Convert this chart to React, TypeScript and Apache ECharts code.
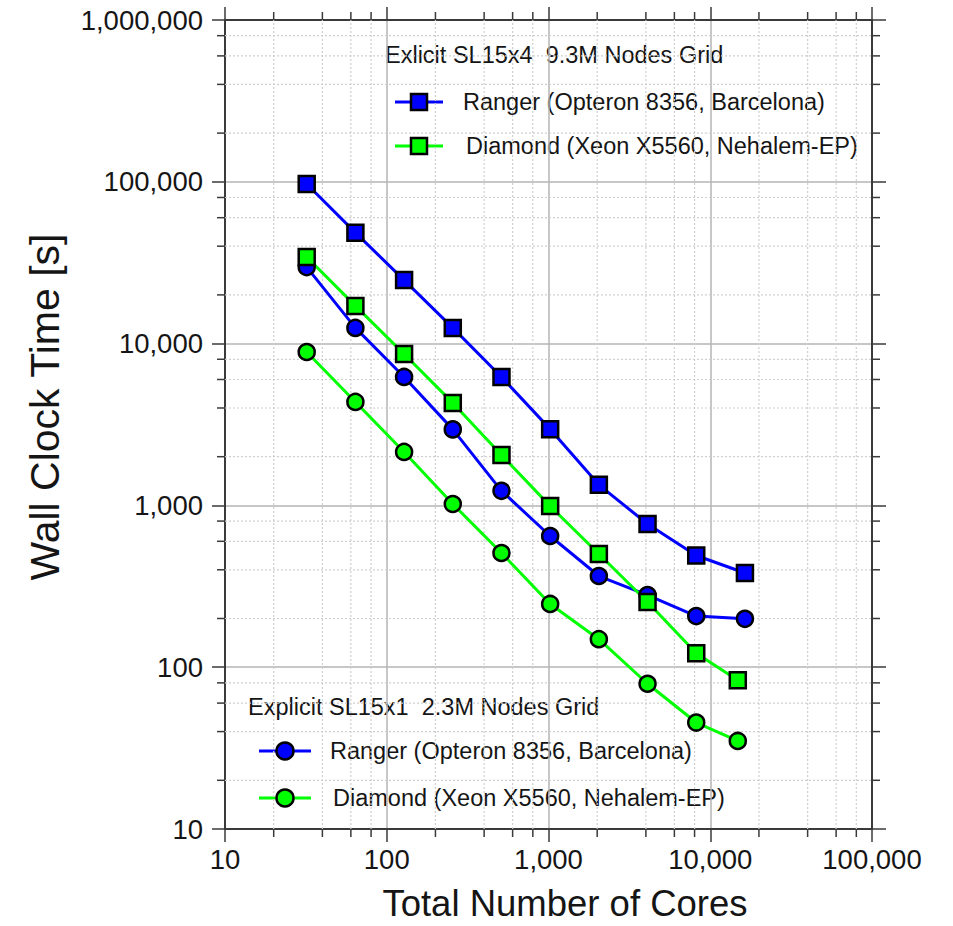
import React, { useEffect, useRef } from "react";
import * as echarts from "echarts";

// ---- data ----
const cores = [32, 64, 128, 256, 512, 1024, 2048, 4096, 8192, 16384];
const diamondCores = [32, 64, 128, 256, 512, 1024, 2048, 4096, 8192, 14800];

const rangerSL15x4 = [97000, 48500, 24700, 12500, 6220, 2960, 1340, 767, 490, 382];
const diamondSL15x4 = [34300, 17100, 8630, 4300, 2050, 990, 501, 253, 122, 83];
const rangerSL15x1 = [29700, 12500, 6220, 2950, 1230, 647, 366, 279, 207, 199];
const diamondSL15x1 = [8870, 4360, 2140, 1020, 508, 246, 149, 79, 45.5, 35];

const xMinor = [20, 40, 60, 80, 200, 400, 600, 800, 2000, 4000, 6000, 8000, 20000, 40000, 60000, 80000];
const yMinor = [
  20, 40, 60, 80, 200, 400, 600, 800, 2000, 4000, 6000, 8000,
  20000, 40000, 60000, 80000, 200000, 400000, 600000, 800000,
];

const legendTop = {
  title: "Exlicit SL15x4  9.3M Nodes Grid",
  ranger: "Ranger (Opteron 8356, Barcelona)",
  diamond: "Diamond (Xeon X5560, Nehalem-EP)",
};
const legendBottom = {
  title: "Explicit SL15x1  2.3M Nodes Grid",
  ranger: "Ranger (Opteron 8356, Barcelona)",
  diamond: "Diamond (Xeon X5560, Nehalem-EP)",
};

const BLUE = "#0000ff";
const GREEN = "#00ff00";
const FONT = "Liberation Sans, Arial, Helvetica, sans-serif";
const TEXT = "#151515";

const X_MIN = 10, X_MAX = 100000, Y_MIN = 10, Y_MAX = 1000000;

const fmt = (v: number) => Math.round(v).toLocaleString("en-US");

function legendGraphics(
  cfg: { title: string; ranger: string; diamond: string },
  titleX: number, titleY: number,
  lineX1: number, lineX2: number, y1: number, y2: number,
  textX1: number, textX2: number, symbol: "rect" | "circle"
) {
  const mid = (lineX1 + lineX2) / 2;
  const marker = (y: number, color: string) =>
    symbol === "rect"
      ? { type: "rect", shape: { x: mid - 8, y: y - 8, width: 16, height: 16 }, style: { fill: color, stroke: "#000", lineWidth: 2.5 } }
      : { type: "circle", shape: { cx: mid, cy: y, r: 8.5 }, style: { fill: color, stroke: "#000", lineWidth: 2.5 } };
  const txt = (x: number, y: number, s: string) => ({
    type: "text", x, y,
    style: { text: s, fontSize: 23.5, fontFamily: FONT, fill: TEXT, verticalAlign: "middle", textVerticalAlign: "middle" },
  });
  return [
    txt(titleX, titleY, cfg.title),
    { type: "line", shape: { x1: lineX1, y1, x2: lineX2, y2: y1 }, style: { stroke: BLUE, lineWidth: 3 } },
    marker(y1, BLUE),
    txt(textX1, y1, cfg.ranger),
    { type: "line", shape: { x1: lineX1, y1: y2, x2: lineX2, y2 }, style: { stroke: GREEN, lineWidth: 3 } },
    marker(y2, GREEN),
    txt(textX2, y2, cfg.diamond),
  ];
}

export default function App() {
  const ref = useRef<HTMLDivElement>(null);
  useEffect(() => {
    if (!ref.current) return;
    const chart = echarts.init(ref.current, null, { renderer: "svg" });

    const axisLine = { show: true, lineStyle: { color: "#3a3a3a", width: 2 } };
    const majorGrid = { show: true, lineStyle: { color: "#b4b4b4", width: 1.5, type: "solid" } };
    const labelStyle = { fontSize: 27.5, fontFamily: FONT, color: TEXT };

    const mkLine = (name: string, xs: number[], ys: number[], color: string, symbol: string) => ({
      type: "line",
      name,
      data: xs.map((x, i) => [x, ys[i]]),
      symbol,
      symbolSize: 16,
      showSymbol: true,
      lineStyle: { color, width: 3 },
      itemStyle: { color, borderColor: "#000", borderWidth: 2.5 },
      z: 5,
      silent: true,
    });

    const option: any = {
      animation: false,
      backgroundColor: "#ffffff",
      grid: { left: 225, top: 20, width: 647, height: 809, containLabel: false, outerBoundsMode: "none" },
      xAxis: [
        {
          type: "log", logBase: 10, min: X_MIN, max: X_MAX, position: "bottom",
          axisLine, axisTick: { show: true, length: 13, lineStyle: { color: "#3a3a3a", width: 1.5 } },
          axisLabel: { ...labelStyle, margin: 16, formatter: fmt },
          splitLine: majorGrid,
          name: "Total Number of Cores", nameLocation: "middle", nameGap: 57,
          nameTextStyle: { fontSize: 36.5, lineHeight: 35, fontFamily: FONT, color: TEXT, padding: [0, 0, 0, 33] },
        },
        {
          type: "log", logBase: 10, min: X_MIN, max: X_MAX, position: "top",
          axisLine, axisTick: { show: true, length: 13, lineStyle: { color: "#3a3a3a", width: 1.5 } },
          axisLabel: { show: false }, splitLine: { show: false },
        },
      ],
      yAxis: [
        {
          type: "log", logBase: 10, min: Y_MIN, max: Y_MAX, position: "left",
          axisLine, axisTick: { show: true, length: 13, lineStyle: { color: "#3a3a3a", width: 1.5 } },
          axisLabel: { ...labelStyle, margin: 22, formatter: fmt },
          splitLine: majorGrid,
          name: "Wall Clock Time [s]", nameLocation: "middle", nameGap: 160,
          nameTextStyle: { fontSize: 41, fontFamily: FONT, color: TEXT, padding: [0, 0, 0, 35] },
        },
        {
          type: "log", logBase: 10, min: Y_MIN, max: Y_MAX, position: "right",
          axisLine, axisTick: { show: true, length: 14, lineStyle: { color: "#3a3a3a", width: 1.5 } },
          axisLabel: { show: false }, splitLine: { show: false },
        },
      ],
      series: [
        {
          type: "custom",
          name: "xMinor",
          clip: false,
          silent: true,
          z: 1,
          data: xMinor.map((v) => [v, Y_MIN]),
          encode: { x: 0, y: 1 },
          renderItem: (params: any, api: any) => {
            const v = api.value(0);
            const b = api.coord([v, Y_MIN]);
            const t = api.coord([v, Y_MAX]);
            return {
              type: "group",
              children: [
                { type: "line", shape: { x1: b[0], y1: b[1], x2: t[0], y2: t[1] }, style: { stroke: "#cfcfcf", lineWidth: 1.2, lineDash: [2, 2] } },
                { type: "line", shape: { x1: b[0], y1: b[1], x2: b[0], y2: b[1] + 8 }, style: { stroke: "#3a3a3a", lineWidth: 1.5 } },
                { type: "line", shape: { x1: t[0], y1: t[1], x2: t[0], y2: t[1] - 8 }, style: { stroke: "#3a3a3a", lineWidth: 1.5 } },
              ],
            };
          },
        },
        {
          type: "custom",
          name: "yMinor",
          clip: false,
          silent: true,
          z: 1,
          data: yMinor.map((v) => [X_MIN, v]),
          encode: { x: 0, y: 1 },
          renderItem: (params: any, api: any) => {
            const v = api.value(1);
            const l = api.coord([X_MIN, v]);
            const r = api.coord([X_MAX, v]);
            return {
              type: "group",
              children: [
                { type: "line", shape: { x1: l[0], y1: l[1], x2: r[0], y2: r[1] }, style: { stroke: "#cfcfcf", lineWidth: 1.2, lineDash: [2, 2] } },
                { type: "line", shape: { x1: l[0], y1: l[1], x2: l[0] - 8, y2: l[1] }, style: { stroke: "#3a3a3a", lineWidth: 1.5 } },
                { type: "line", shape: { x1: r[0], y1: r[1], x2: r[0] + 8, y2: r[1] }, style: { stroke: "#3a3a3a", lineWidth: 1.5 } },
              ],
            };
          },
        },
        mkLine("Ranger SL15x1", cores, rangerSL15x1, BLUE, "circle"),
        mkLine("Diamond SL15x1", diamondCores, diamondSL15x1, GREEN, "circle"),
        mkLine("Ranger SL15x4", cores, rangerSL15x4, BLUE, "rect"),
        mkLine("Diamond SL15x4", diamondCores, diamondSL15x4, GREEN, "rect"),
      ],
      graphic: [
        ...legendGraphics(legendTop, 385, 55, 395, 443, 102, 146, 463, 466, "rect"),
        ...legendGraphics(legendBottom, 248, 707, 259, 311, 751, 798, 330, 333, "circle"),
      ],
    };
    chart.setOption(option);
    return () => chart.dispose();
  }, []);
  return <div ref={ref} style={{ position: "absolute", left: 0, top: 0, width: 953, height: 926 }} />;
}
